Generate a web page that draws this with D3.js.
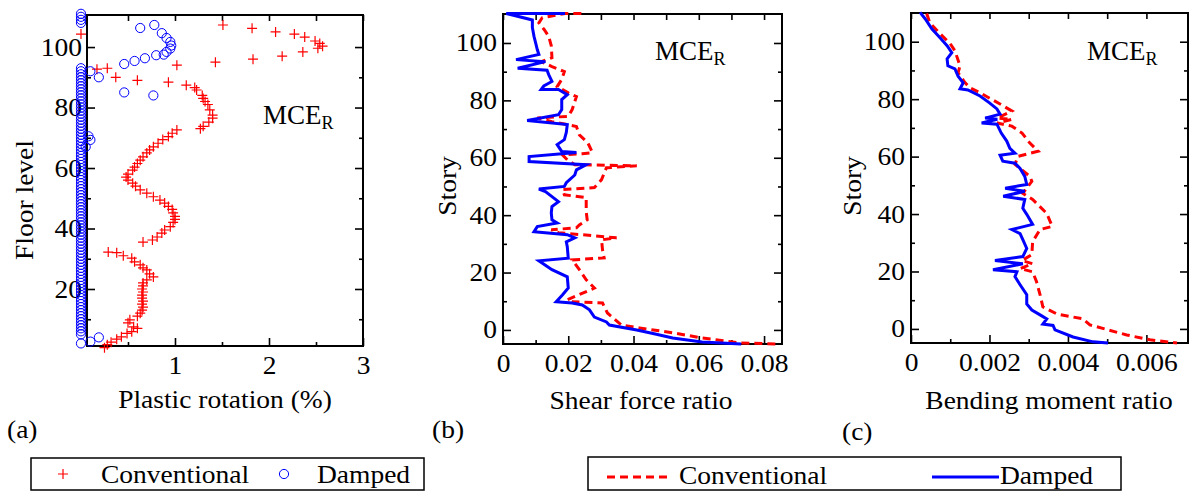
<!DOCTYPE html>
<html>
<head>
<meta charset="utf-8">
<script src="https://cdn.jsdelivr.net/npm/d3@7/dist/d3.min.js"></script>
<style>
  body { margin: 0; background: #fff; }
  svg { display: block; }
</style>
</head>
<body>
<svg id="chart" width="1191" height="491" font-family="Liberation Serif, Times New Roman, serif"></svg>
<script>
// ---- data ----
// (a) plastic rotation (%) vs floor level: [rotation, floor]
const conventionalRot = [
  [0.25,0.6],[0.28,1.6],[0.32,2.4],[0.38,3.4],[0.43,4.2],[0.49,5.3],[0.54,5.9],[0.6,7],[0.56,7.5],[0.5,8.8],
  [0.52,9.8],[0.6,11],[0.63,12],[0.65,13],[0.66,14],[0.65,15],[0.66,16],[0.65,17],[0.65,18],[0.66,19],
  [0.65,20],[0.66,21],[0.66,22],[0.7,23],[0.77,24],[0.73,25],[0.7,26.3],[0.66,27],[0.63,28],[0.57,29],
  [0.54,30.2],[0.45,31],[0.38,32],[0.29,32.2],
  [0.66,35.5],[0.76,36.2],[0.81,37.2],[0.86,38.5],[0.89,39.5],[0.95,40.6],[0.98,42],[1.0,43],[1.0,44],[0.98,45.2],
  [0.97,46.3],[0.93,47.3],[0.89,48.4],[0.84,49.4],[0.77,50.5],[0.7,51.7],[0.63,52.8],[0.58,54],[0.55,55],[0.5,56],
  [0.48,57],[0.5,58],[0.55,59.3],[0.57,60.3],[0.6,61.5],[0.63,62.6],[0.66,63.7],[0.7,65],[0.73,66],[0.77,67],
  [0.82,68.2],[0.87,69.4],[0.93,70.4],[0.97,71.5],[1.02,72.6],[1.27,73],[1.3,73.8],[1.36,75.2],[1.4,76.5],[1.4,77.5],
  [1.37,79.2],[1.35,81],[1.32,82],[1.3,83],[1.29,84],[1.23,85.8],[1.21,86.6],[1.12,87.4],[0.93,88.4],[0.6,89],
  [0.37,90],[0.17,92.7],[0.28,93],[1.02,94],[1.43,95],[1.83,96],[2.14,97],[2.36,98.4],[2.52,99.6],[2.57,100.3],
  [2.54,101.2],[2.49,102],[2.38,103.3],[2.27,104.3],[2.07,105],[1.82,106.2],[1.51,107.3],[0,104.3]
];
const dampedRot = [
  [0,2],[0.1,2.6],[0.19,4],[0,5],[0,6],[0,7],[0,8],[0,9],[0,10],[0,11],
  [0,12],[0,13],[0,14],[0,15],[0,16],[0,17],[0,18],[0,19],[0,20],[0,21],
  [0,22],[0,23],[0,24],[0,25],[0,26],[0,27],[0,28],[0,29],[0,30],[0,31],
  [0,32],[0,33],[0,34],[0,35],[0,36],[0,37],[0,38],[0,39],[0,40],[0,41],
  [0,42],[0,43],[0,44],[0,45],[0,46],[0,47],[0,48],[0,49],[0,50],[0,51],
  [0,52],[0,53],[0,54],[0,55],[0,56],[0,57],[0,58],[0,59],[0,60],[0,61],
  [0,62],[0,63],[0,64],[0,65],[0,66],[0.05,67],[0.1,69.3],[0.08,70.5],[0,67],[0,68],
  [0,69],[0,70],[0,71],[0,72],[0,73],[0,74],[0,75],[0,76],[0,77],[0,78],
  [0,79],[0,80],[0,81],[0,82],[0,83],[0,84],[0,85],[0,86],[0,87],[0,88],
  [0,89],[0,90],[0,91],[0,92],[0,93],[0.1,92],[0.19,90],[0.46,85],[0.77,84],[0.46,94.4],
  [0.57,95.4],[0.68,96.3],[0.8,97.3],[0.88,97.5],[0.91,98.4],[0.95,99.5],[0.96,100.5],[0.95,101.7],[0.91,103],[0.86,104.6],
  [0.78,107.3],[0.63,106.3],[0,108],[0,109],[0,110],[0,111]
];

// (b) shear force ratio vs story: [ratio, story]
const conventionalShear = [
  [0.024,110.3],[0.019,110.3],[0.012,108.8],[0.011,107],[0.0126,104.7],[0.014,102.3],[0.0148,99],[0.015,94.9],[0.0117,93.5],[0.015,91.8],
  [0.0188,90],[0.018,87.3],[0.0166,84.8],[0.02,82.6],[0.0225,81.3],[0.0212,76.8],[0.02,74.4],[0.0105,73.9],[0.015,72.6],[0.0225,70.9],
  [0.0234,68],[0.026,65.2],[0.0274,61.8],[0.0243,61.4],[0.0182,61],[0.0197,59.3],[0.022,57.6],[0.041,57.2],[0.0317,56.5],[0.0302,52.4],
  [0.028,49.6],[0.0182,48.9],[0.0188,47.1],[0.0255,46.1],[0.0255,41.2],[0.0258,38.4],[0.0234,36.6],[0.0225,35.6],[0.0148,34.9],[0.017,33.9],
  [0.0348,32.1],[0.0302,31.4],[0.0305,27.9],[0.031,25.1],[0.0212,24.4],[0.0234,21],[0.0255,17.5],[0.028,14.6],[0.0197,10.5],[0.0212,9.8],
  [0.0305,9.4],[0.032,5.9],[0.0363,1.7],[0.0418,0.7],[0.052,-1],[0.061,-2.8],[0.0726,-4.5],[0.084,-4.9]
];
const dampedShear = [
  [0.019,110.3],[0.001,110.3],[0.009,108],[0.009,105.4],[0.0095,102.3],[0.010,100],[0.0105,97.7],[0.011,96],[0.004,94.2],[0.013,93.5],
  [0.0045,91.2],[0.0135,90.5],[0.014,89],[0.015,86.6],[0.0125,85],[0.0117,83.8],[0.017,83.8],[0.0197,82],[0.018,80.3],[0.018,76.8],
  [0.017,75],[0.0074,73],[0.0197,71.6],[0.0194,68.8],[0.0188,66.3],[0.0166,64.6],[0.018,62.2],[0.0225,61.8],[0.008,60.4],[0.008,58.7],
  [0.0255,57.6],[0.0225,55.8],[0.022,54],[0.0194,51.3],[0.0188,50],[0.011,49.1],[0.013,48.2],[0.017,44.7],[0.015,43],[0.0148,40.8],
  [0.015,38.4],[0.0166,37.3],[0.0105,36],[0.0095,34.2],[0.0197,33.2],[0.022,32.1],[0.0194,30.7],[0.0197,29],[0.02,25],[0.011,24.1],
  [0.015,21],[0.0197,18.5],[0.02,14.6],[0.0182,12.2],[0.0163,9.8],[0.0212,9.4],[0.0243,8.7],[0.0265,7],[0.028,4.5],[0.0317,2.8],
  [0.0326,1.7],[0.041,0],[0.047,-1.5],[0.052,-2.8],[0.061,-4.2],[0.073,-4.9]
];

// (c) bending moment ratio vs story: [ratio, story]
const conventionalMoment = [
  [0.0004,109.8],[0.00048,106.6],[0.00074,102.8],[0.001,99.3],[0.00112,96.8],[0.00125,91.6],[0.0012,89.2],[0.00138,85.7],[0.0015,84],[0.00176,82.2],
  [0.00227,78.3],[0.00257,75.9],[0.0022,73.4],[0.00257,73],[0.0022,71.7],[0.00257,70.6],[0.00283,68.2],[0.00303,64.7],[0.00324,61.9],[0.00273,60.1],
  [0.00265,57.3],[0.00303,53.1],[0.00308,51.4],[0.00285,47.2],[0.0031,45.1],[0.00346,40.2],[0.0036,35.7],[0.00329,34.6],[0.0031,30.4],[0.00308,25.9],
  [0.00283,23.8],[0.0031,22.7],[0.00278,21],[0.0031,19.9],[0.0032,16.4],[0.00329,11.9],[0.00336,7.7],[0.00372,5.2],[0.00438,3.5],[0.00456,1.4],
  [0.0055,-2.1],[0.00609,-3.8],[0.00678,-4.9]
];
const dampedMoment = [
  [0.00023,110.2],[0.00036,108],[0.00053,104.5],[0.00074,101.4],[0.00092,98.6],[0.00104,96.2],[0.00092,94],[0.00094,91.6],[0.00112,90.5],[0.0012,88],
  [0.00133,85.7],[0.00125,83.6],[0.00145,83.2],[0.00176,81.1],[0.002,78.7],[0.00219,76.6],[0.00227,74.8],[0.00189,73.4],[0.0022,73],[0.0018,71.7],
  [0.00219,71.3],[0.0023,68.2],[0.00244,65.4],[0.00252,62.9],[0.00265,61.2],[0.00227,60.5],[0.00234,58.4],[0.00265,57.7],[0.00278,55.9],[0.0029,53.1],
  [0.00295,50.3],[0.0024,49],[0.0029,47.9],[0.00235,46.2],[0.0029,45.1],[0.00285,42],[0.00295,39.9],[0.0031,36.4],[0.00257,34.6],[0.00278,33.2],
  [0.00285,31.1],[0.00295,28],[0.00285,25.2],[0.00214,23.8],[0.00285,22.7],[0.00209,20.6],[0.0027,19.9],[0.00265,18.2],[0.00278,15.4],[0.00295,11.9],
  [0.00295,8.7],[0.00308,6.6],[0.00329,4.9],[0.00346,3.5],[0.00336,1.7],[0.00362,1.2],[0.00367,-0.3],[0.00413,-2.8],[0.00464,-4.5],[0.00502,-4.9]
];

// ticks
const rotTicks = [1, 2, 3];
const rotMinor = [0.5, 1.5, 2.5];
const floorTicks = [20, 40, 60, 80, 100];
const floorMinor = [10, 30, 50, 70, 90];
const shearTicks = [0, 0.02, 0.04, 0.06, 0.08];
const shearMinor = [0.01, 0.03, 0.05, 0.07];
const momentTicks = [0, 0.002, 0.004, 0.006];
const momentMinor = [0.001, 0.003, 0.005];
const storyTicks = [0, 20, 40, 60, 80, 100];
const storyMinor = [10, 30, 50, 70, 90];

const RED = '#ff0000';
const BLUE = '#0000ff';
const FONT = 'Liberation Serif, Times New Roman, serif';
const FS = 25;      // font size
const SX = 1.1;     // horizontal stretch of the serif text

const svg = d3.select('#chart');

function label(parent, x, y, txt, opts = {}) {
  const rot = opts.rotate ? ` rotate(${opts.rotate})` : '';
  return parent.append('text')
    .attr('transform', `translate(${x},${y})${rot} scale(${SX},1)`)
    .attr('text-anchor', opts.anchor || 'start')
    .attr('font-family', FONT)
    .attr('font-size', (opts.size || FS) + 'px')
    .attr('fill', '#000')
    .text(txt);
}

function mce(parent, x, y) {
  const t = parent.append('text')
    .attr('x', x).attr('y', y)
    .attr('font-family', FONT)
    .attr('font-size', '27px');
  t.append('tspan').text('MCE');
  t.append('tspan').attr('font-size', '18px').attr('dy', 5).text('R');
}

function styleAxis(sel) {
  sel.attr('font-family', FONT).attr('font-size', FS);
  sel.select('.domain').remove();
  sel.selectAll('.tick line').attr('stroke', '#000').attr('stroke-width', 1.6);
  sel.selectAll('.tick text').attr('font-family', FONT).attr('font-size', FS + 'px').attr('fill', '#000');
}

function panel(p) {
  const g = svg.append('g');
  const x = d3.scaleLinear().domain(p.xDomain).range([p.left, p.right]);
  const y = d3.scaleLinear().domain(p.yDomain).range([p.bottom, p.top]);
  const fmt = d => String(d);

  // bottom: labelled majors + minors
  g.append('g').attr('transform', `translate(0,${p.bottom})`)
    .call(d3.axisBottom(x).tickValues(p.xTicks).tickFormat(fmt).tickSizeInner(-8).tickSizeOuter(0).tickPadding(10))
    .call(styleAxis)
    .selectAll('.tick text').attr('transform', `scale(${SX},1)`);
  g.append('g').attr('transform', `translate(0,${p.bottom})`)
    .call(d3.axisBottom(x).tickValues(p.xMinor).tickFormat('').tickSizeInner(-4).tickSizeOuter(0))
    .call(styleAxis);
  // top mirror
  g.append('g').attr('transform', `translate(0,${p.top})`)
    .call(d3.axisTop(x).tickValues(p.xTicks.concat(p.xMinor)).tickFormat('').tickSizeInner(-6).tickSizeOuter(0))
    .call(styleAxis);

  // left
  g.append('g').attr('transform', `translate(${p.left},0)`)
    .call(d3.axisLeft(y).tickValues(p.yTicks).tickFormat(fmt).tickSizeInner(-8).tickSizeOuter(0).tickPadding(p.yPad))
    .call(styleAxis)
    .selectAll('.tick text').attr('transform', `scale(${SX},1)`);
  g.append('g').attr('transform', `translate(${p.left},0)`)
    .call(d3.axisLeft(y).tickValues(p.yMinor).tickFormat('').tickSizeInner(-4).tickSizeOuter(0))
    .call(styleAxis);
  // right mirror
  g.append('g').attr('transform', `translate(${p.right},0)`)
    .call(d3.axisRight(y).tickValues(p.yTicks).tickFormat('').tickSizeInner(-8).tickSizeOuter(0))
    .call(styleAxis);
  g.append('g').attr('transform', `translate(${p.right},0)`)
    .call(d3.axisRight(y).tickValues(p.yMinor).tickFormat('').tickSizeInner(-4).tickSizeOuter(0))
    .call(styleAxis);

  // box
  g.append('rect')
    .attr('x', p.left).attr('y', p.top)
    .attr('width', p.right - p.left).attr('height', p.bottom - p.top)
    .attr('fill', 'none').attr('stroke', '#000').attr('stroke-width', 2);

  return { g, x, y };
}

// ---- (a) ----
const pa = panel({
  left: 87, right: 363, top: 15, bottom: 346,
  xDomain: [0.064, 3], yDomain: [1.15, 110.6],
  xTicks: rotTicks, xMinor: rotMinor, yTicks: floorTicks, yMinor: floorMinor, yPad: 4.5
});
pa.g.append('g').selectAll('path')
  .data(conventionalRot)
  .join('path')
  .attr('d', 'M-5,0H5M0,-5V5')
  .attr('transform', d => `translate(${pa.x(d[0])},${pa.y(d[1])})`)
  .attr('stroke', RED).attr('stroke-width', 1.2).attr('fill', 'none');
pa.g.append('g').selectAll('circle')
  .data(dampedRot)
  .join('circle')
  .attr('cx', d => pa.x(d[0]))
  .attr('cy', d => pa.y(d[1]))
  .attr('r', 4.6)
  .attr('fill', 'none').attr('stroke', BLUE).attr('stroke-width', 1);
mce(pa.g, 263, 124);
label(svg, 225, 408, 'Plastic rotation (%)', { anchor: 'middle' });
label(svg, 33, 200, 'Floor level', { anchor: 'middle', rotate: -90 });
label(svg, 7, 438, '(a)');

// ---- (b) and (c) ----
function profile(p, conv, damp) {
  const line = d3.line().x(d => p.x(d[0])).y(d => p.y(d[1]));
  p.g.append('path').datum(conv).attr('d', line)
    .attr('fill', 'none').attr('stroke', RED).attr('stroke-width', 3)
    .attr('stroke-dasharray', '8,5');
  p.g.append('path').datum(damp).attr('d', line)
    .attr('fill', 'none').attr('stroke', BLUE).attr('stroke-width', 3)
    .attr('stroke-linejoin', 'miter');
}

const pb = panel({
  left: 503, right: 782, top: 14, bottom: 344,
  xDomain: [0, 0.0855], yDomain: [-4.9, 110.1],
  xTicks: shearTicks, xMinor: shearMinor, yTicks: storyTicks, yMinor: storyMinor, yPad: 5.5
});
profile(pb, conventionalShear, dampedShear);
mce(pb.g, 655, 60);
label(svg, 641, 409, 'Shear force ratio', { anchor: 'middle' });
label(svg, 456, 186, 'Story', { anchor: 'middle', rotate: -90 });
label(svg, 432, 438, '(b)');

const pc = panel({
  left: 911, right: 1188, top: 13, bottom: 343,
  xDomain: [0, 0.00706], yDomain: [-4.9, 110],
  xTicks: momentTicks, xMinor: momentMinor, yTicks: storyTicks, yMinor: storyMinor, yPad: 5.5
});
profile(pc, conventionalMoment, dampedMoment);
mce(pc.g, 1087, 60);
label(svg, 1049, 409, 'Bending moment ratio', { anchor: 'middle' });
label(svg, 861, 186, 'Story', { anchor: 'middle', rotate: -90 });
label(svg, 842, 440, '(c)');

// ---- legends ----
const legA = svg.append('g');
legA.append('rect').attr('x', 31).attr('y', 458).attr('width', 393).attr('height', 32)
  .attr('fill', 'none').attr('stroke', '#000').attr('stroke-width', 1.5);
legA.append('path').attr('d', 'M-5,0H5M0,-5V5').attr('transform', 'translate(63,474)')
  .attr('stroke', RED).attr('stroke-width', 1.2);
label(legA, 101, 483, 'Conventional');
legA.append('circle').attr('cx', 284).attr('cy', 474).attr('r', 4.6)
  .attr('fill', 'none').attr('stroke', BLUE).attr('stroke-width', 1);
label(legA, 317, 483, 'Damped');

const legB = svg.append('g');
legB.append('rect').attr('x', 588).attr('y', 457).attr('width', 533).attr('height', 33)
  .attr('fill', 'none').attr('stroke', '#000').attr('stroke-width', 1.5);
legB.append('line').attr('x1', 607).attr('x2', 668).attr('y1', 477).attr('y2', 477)
  .attr('stroke', RED).attr('stroke-width', 3).attr('stroke-dasharray', '8,5');
label(legB, 679, 484, 'Conventional');
legB.append('line').attr('x1', 932).attr('x2', 999).attr('y1', 477).attr('y2', 477)
  .attr('stroke', BLUE).attr('stroke-width', 3);
label(legB, 1000, 484, 'Damped');
</script>
</body>
</html>
